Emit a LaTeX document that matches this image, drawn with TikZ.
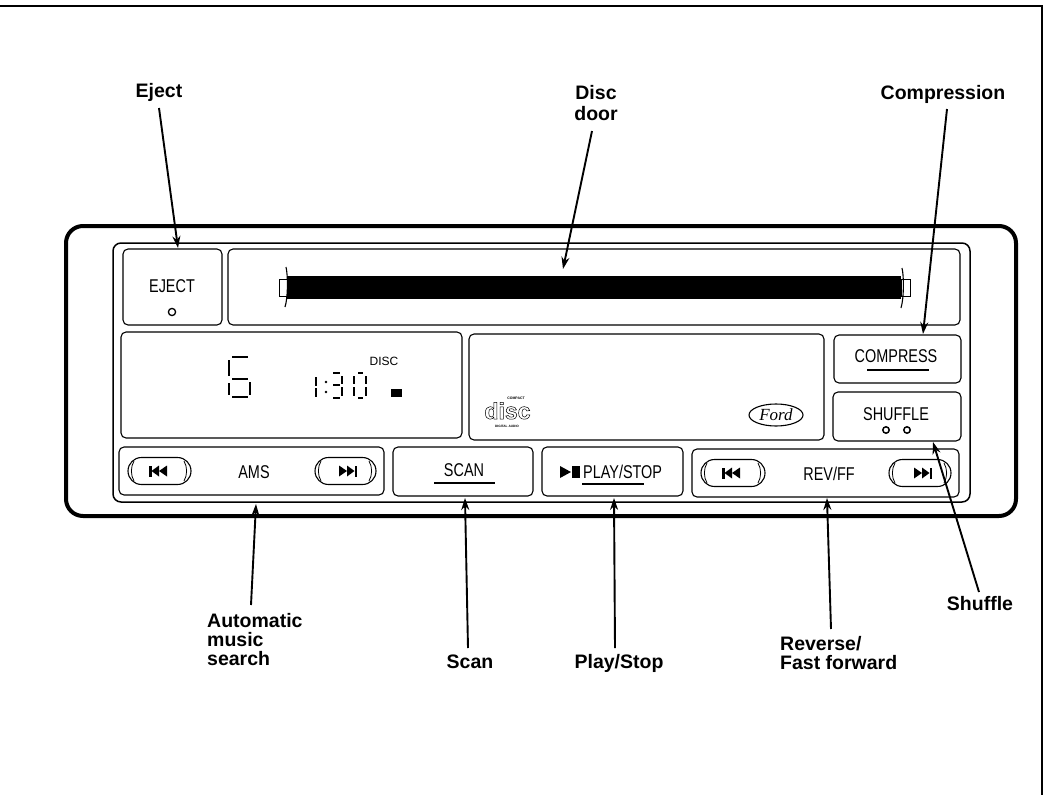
\documentclass[tikz,border=0pt]{standalone}
\usepackage{fontspec}
\setmainfont{Liberation Sans}
\newfontfamily\panelfont[FakeStretch=0.78]{Liberation Sans}
\newfontfamily\fordfont{Liberation Serif}
\usetikzlibrary{arrows.meta}
\newcommand\labelfont{\fontsize{19.5}{19}\selectfont\bfseries}
\newcommand\pfont{\fontsize{18.5}{18.5}\selectfont\panelfont}
\newcommand\pillbtn[3]{%
  \draw[boxline,rounded corners=13.5pt] (#1,#3-13.5) rectangle (#2,#3+13.5);
  \draw[thinline] (#1+6,#3-10) .. controls (#1+2.5,#3-4) and (#1+2.5,#3+4) .. (#1+6,#3+10);
  \draw[thinline] (#2-7,#3-10) .. controls (#2-3.5,#3-4) and (#2-3.5,#3+4) .. (#2-7,#3+10);
}
\newcommand\prevglyph[2]{%
  \fill (#1-10,#2-5.5) rectangle (#1-7.5,#2+5.5);
  \fill (#1-7.5,#2) -- (#1,#2-5.5) -- (#1,#2+5.5) -- cycle;
  \fill (#1,#2) -- (#1+8,#2-5.5) -- (#1+8,#2+5.5) -- cycle;
}
\newcommand\nextglyph[2]{%
  \fill (#1+7.5,#2-5.5) rectangle (#1+10,#2+5.5);
  \fill (#1+7.5,#2) -- (#1,#2-5.5) -- (#1,#2+5.5) -- cycle;
  \fill (#1,#2) -- (#1-8,#2-5.5) -- (#1-8,#2+5.5) -- cycle;
}
\tikzset{
  boxline/.style={line width=1.1pt,black},
  thinline/.style={line width=0.8pt,black},
  segline/.style={line width=1.8pt,black},
  panelbox/.style={boxline,rounded corners=5pt},
  callout/.style={line width=1.9pt,black,-{Stealth[length=12pt,width=8pt]}},
  lbl/.style={font=\labelfont,inner sep=0pt,anchor=base,align=center},
  lblw/.style={font=\labelfont,inner sep=0pt,anchor=base west},
  ptxt/.style={font=\pfont,inner sep=0pt},
  rulebar/.style={line width=2.2pt,black},
}
\begin{document}
\begin{tikzpicture}[x=1pt,y=-1pt]
\useasboundingbox (0,0) rectangle (1045,795);
\draw[line width=2.2pt] (0,6) -- (1042,6) -- (1042,795);
% housing
\draw[line width=4pt,rounded corners=17pt] (66,226) rectangle (1016,516);
\draw[line width=1.5pt,rounded corners=8pt] (113,243) rectangle (970,502);
% boxes
\draw[panelbox] (123,249) rectangle (222,325);
\draw[panelbox] (228,249) rectangle (960,325);
\draw[panelbox] (121,332) rectangle (462,438);
\draw[panelbox] (469,334) rectangle (824,440);
\draw[panelbox] (834,335) rectangle (961,383);
\draw[panelbox] (833,392) rectangle (961,441);
\draw[panelbox] (119,447) rectangle (384,495);
\draw[panelbox] (393,447) rectangle (533,496);
\draw[panelbox] (542,447) rectangle (683,496);
\draw[panelbox] (692,449) rectangle (959,497);
% slot
\fill (287,276) rectangle (901,299);
\draw[thinline] (279,279) rectangle (287,296);
\draw[thinline] (901,279) rectangle (910,296);
\draw[boxline] (286,267) .. controls (288,275) and (288,298) .. (285,307);
\draw[boxline] (902,268) .. controls (904,276) and (904,298) .. (901,308);
% eject
\node[ptxt] (ejecttxt) at (172,286) {EJECT};
\draw[line width=1.3pt] (172,312) circle (3.6);
% big digit
\draw[segline] (232,357) -- (248,357) (232,379) -- (248,379) (232,397) -- (248,397)
  (229,360) -- (229,376) (229,383) -- (229,395) (250,382) -- (250,395);
% time
\draw[segline] (316,377) -- (316,386) (316,388) -- (316,397);
\fill (326,382) circle (1.4) (326,392) circle (1.4);
\draw[segline] (333,373) -- (340,373) (333,385) -- (340,385) (333,398) -- (340,398)
  (342,376) -- (342,384) (342,387) -- (342,396);
\draw[segline] (358,373) -- (363,373) (358,398) -- (363,398)
  (354,376) -- (354,384) (354,387) -- (354,396) (366,376) -- (366,384) (366,387) -- (366,396);
\node[inner sep=0pt,font=\fontsize{12}{12}\selectfont] (disctxt) at (384,361) {DISC};
\fill (391,389) rectangle (402,397);
% disc logo
\node[inner sep=0pt,font=\fontsize{3.5}{3.5}\selectfont\bfseries] (logotop) at (516,398.5) {COMPACT};
\node[inner sep=0pt,anchor=base,font=\fontsize{23}{23}\selectfont\bfseries] (logodisc) at (507.5,419) {\special{pdf:code q 1 Tr 0.5 w}disc\special{pdf:code Q}};
\node[inner sep=0pt,font=\fontsize{3.2}{3.2}\selectfont\bfseries] (logobot) at (507,426.5) {DIGITAL AUDIO};
% ford
\draw[boxline] (776,415) ellipse (27 and 11);
\node[inner sep=0pt,font=\fontsize{17}{17}\selectfont\fordfont\itshape] (fordtxt) at (776,415) {Ford};
% right buttons
\node[ptxt] (comptxt) at (896,356) {COMPRESS};
\draw[rulebar] (867,370) -- (929,370);
\node[ptxt] (shuftxt) at (896,414) {SHUFFLE};
\draw[line width=1.5pt] (886,430) circle (3.2) (907,430) circle (3.2);
% ams
\pillbtn{128}{191}{471}
\prevglyph{159}{471}
\node[ptxt] (amstxt) at (254,472) {AMS};
\pillbtn{315}{376}{471}
\nextglyph{347}{471}
% scan
\node[ptxt] (scantxt) at (464,470) {SCAN};
\draw[rulebar] (434,483) -- (495,483);
% play
\fill (560,466) -- (571,472) -- (560,478) -- cycle;
\fill (572,466) rectangle (580,478);
\node[ptxt,anchor=west] (playtxt) at (583,472) {PLAY/STOP};
\draw[rulebar] (582,484) -- (644,484);
% rev
\pillbtn{701}{765}{473}
\prevglyph{732}{473}
\node[ptxt] (revtxt) at (829,474) {REV/FF};
\pillbtn{889}{951}{473}
\nextglyph{922}{473}
% labels
\node[lbl] (ejectl) at (159,97) {Eject};
\node[lbl] (doorl1) at (596,99) {Disc};
\node[lbl] (doorl2) at (596,120) {door};
\node[lbl] (compl) at (943,99) {Compression};
\node[lblw] (amsl1) at (207,627) {Automatic};
\node[lblw] (amsl2) at (207,646) {music};
\node[lblw] (amsl3) at (207,665) {search};
\node[lbl] (scanl) at (470,668) {Scan};
\node[lbl] (playl) at (619,668) {Play/Stop};
\node[lblw] (revl1) at (780,650) {Reverse/};
\node[lblw] (revl2) at (780,669) {Fast forward};
\node[lbl] (shufl) at (980,610) {Shuffle};
% arrow targets
\coordinate (ejectt) at (178,248);
\coordinate (doort) at (563,269);
\coordinate (compt) at (923,334);
\coordinate (amst) at (256,504);
\coordinate (scant) at (465,498);
\coordinate (playt) at (614,498);
\coordinate (revt) at (827,498);
\coordinate (shuft) at (933,442);
\coordinate (ejects) at (159,108);
\coordinate (doors) at (592,131);
\coordinate (comps) at (947,109);
\coordinate (amss) at (251,605);
\coordinate (scans) at (468,648);
\coordinate (plays) at (615,648);
\coordinate (revs) at (831,629);
\coordinate (shufs) at (979,592);
\draw[callout] (ejects) -- (ejectt);
\draw[callout] (doors) -- (doort);
\draw[callout] (comps) -- (compt);
\draw[callout] (amss) -- (amst);
\draw[callout] (scans) -- (scant);
\draw[callout] (plays) -- (playt);
\draw[callout] (revs) -- (revt);
\draw[callout] (shufs) -- (shuft);
\end{tikzpicture}
\end{document}
